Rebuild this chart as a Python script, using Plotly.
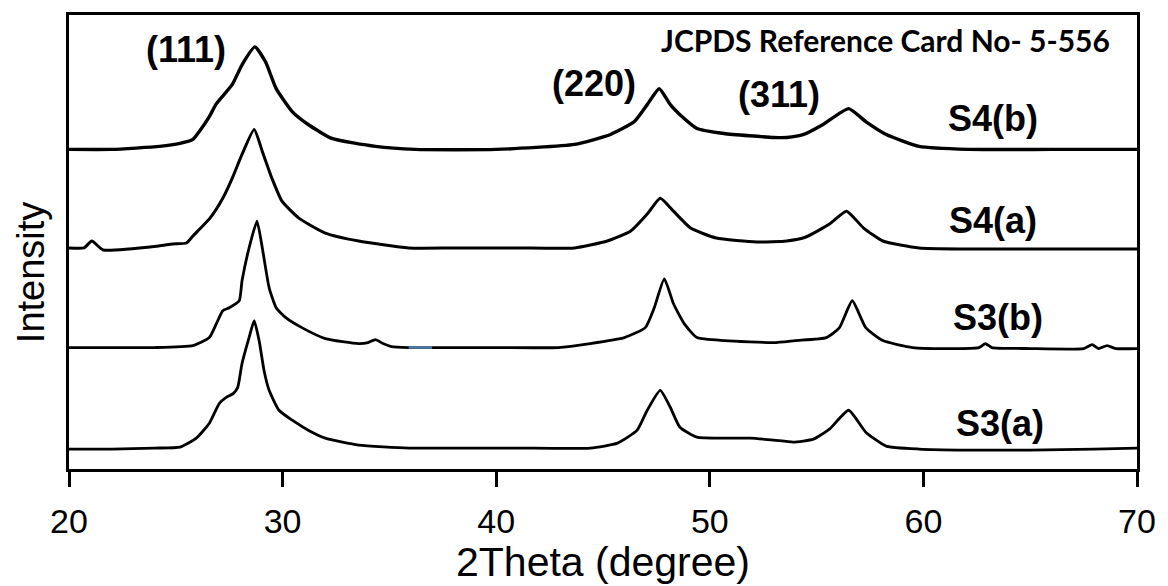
import plotly.graph_objects as go

# 2Theta (degree) and intensity (a.u., stacked offsets)
s3a_x = [20, 22, 24, 25.2, 25.96, 26.57, 27.04, 27.36, 27.7, 27.9, 28.1, 28.43, 28.67, 28.9, 29.13, 29.37,
         29.83, 30.45, 31.2, 32.0, 33.56, 35.9, 38, 41, 44.4, 45.68, 46.6, 47.07, 47.68, 48.15, 48.6, 49.4,
         50.66, 51.9, 53.0, 53.9, 54.85, 55.6, 56.5, 57.3, 58.26, 59.8, 62, 65, 68, 70]
s3a_y = [20, 20, 21, 22, 31, 46, 66, 72, 76, 82, 106, 132, 149, 129, 99, 79,
         59, 49, 39, 31, 24, 21, 21, 21, 21, 26, 39, 59, 79, 62, 42, 32,
         31, 31, 29, 27, 30, 40, 59, 37, 23, 20, 19, 19, 20, 21]

s3b_x = [20, 22, 24, 25.8, 26.57, 26.9, 27.2, 27.5, 27.97, 28.1, 28.43, 28.8, 29.05, 29.37, 29.7, 30.15,
         30.9, 32.0, 33.56, 34.0, 34.35, 34.7, 35.1, 35.9, 37, 40, 42.9, 44.4, 46.0, 46.98, 47.4, 47.87,
         48.3, 48.8, 49.4, 50.7, 53.0, 54.0, 55.46, 56.07, 56.67, 57.3, 58.1, 59.5, 61.4, 62.6, 62.9, 63.2,
         65, 67.5, 67.9, 68.2, 68.6, 69, 70]
s3b_y = [122, 122, 122, 124, 132, 146, 159, 162, 169, 189, 222, 249, 222, 182, 162, 152,
         142, 131, 126, 127, 130, 126, 123, 122, 122, 122, 122, 126, 132, 142, 162, 191,
         166, 146, 132, 129, 127, 129, 132, 142, 169, 142, 129, 122, 121, 122, 126, 122,
         121, 121, 125, 121, 124, 121, 121]

s4a_x = [20, 20.7, 21.07, 21.6, 24.2, 24.85, 25.5, 25.8, 26.6, 27.2, 27.64, 28.1, 28.67, 29.05, 29.5, 29.97,
         30.76, 32.0, 33.56, 35.9, 38, 41, 43.67, 45.2, 46.3, 47.07, 47.68, 48.3, 49.1, 50.3, 52.2, 53.6,
         54.5, 55.6, 56.4, 57.2, 58.1, 59.8, 62, 66, 70]
s4a_y = [222, 222, 229, 220, 224, 226, 227, 234, 252, 272, 292, 316, 341, 319, 292, 269,
         252, 237, 229, 222, 222, 222, 222, 229, 239, 256, 272, 259, 242, 232, 228, 229,
         233, 246, 259, 242, 229, 222, 221, 221, 221]

s4b_x = [20, 22, 24.24, 25.2, 25.8, 26.1, 26.57, 26.9, 27.64, 28.1, 28.7, 29.2, 29.7, 30.45, 31.2, 32.3,
         34.35, 36.2, 40, 43.67, 45.35, 46.47, 47.07, 47.63, 48.15, 48.8, 49.4, 50.66, 53.0, 53.6, 54.4,
         55.3, 56.5, 57.3, 58.26, 59.8, 62.1, 66, 70]
s4b_y = [321, 321, 324, 327, 331, 339, 354, 367, 386, 406, 424, 409, 382, 359, 346, 332,
         324, 321, 321, 326, 336, 349, 366, 382, 366, 352, 342, 337, 333, 333, 336,
         346, 362, 349, 336, 324, 321, 321, 321]

# short blue artefact segment on S3(b)
blue_x = [35.9, 37.0]
blue_y = [122, 122]

series_names = ["S3(a)", "S3(b)", "S4(a)", "S4(b)"]
peak_labels = ["(111)", "(220)", "(311)"]
card_label = "JCPDS Reference Card No- 5-556"

fig = go.Figure()
for name, xs, ys, w in [("S3(a)", s3a_x, s3a_y, 2.8), ("S3(b)", s3b_x, s3b_y, 2.8),
                        ("S4(a)", s4a_x, s4a_y, 3.0), ("S4(b)", s4b_x, s4b_y, 3.4)]:
    fig.add_trace(go.Scatter(x=xs, y=ys, mode="lines", name=name,
                             line=dict(color="black", width=w, shape="spline", smoothing=0.5)))
fig.add_trace(go.Scatter(x=blue_x, y=blue_y, mode="lines", line=dict(color="#4f7fb5", width=2.5)))

lab_font = dict(family="Liberation Sans", size=36, color="black")
anns = []
for txt, x, y in zip(peak_labels, [25.5, 44.56, 53.22], [421, 387, 376]):
    anns.append(dict(x=x, y=y, xref="x", yref="y", text="<b>%s</b>" % txt, showarrow=False,
                     font=lab_font, xanchor="center", yanchor="middle"))
for txt, x, y in zip(["S4(b)", "S4(a)", "S3(b)", "S3(a)"], [63.24, 63.24, 63.48, 63.57], [352, 250, 152, 46]):
    anns.append(dict(x=x, y=y, xref="x", yref="y", text="<b>%s</b>" % txt, showarrow=False,
                     font=lab_font, xanchor="center", yanchor="middle"))
anns.append(dict(x=58.21, y=431, xref="x", yref="y", text="<b>%s</b>" % card_label, showarrow=False,
                 font=dict(family="Lato", size=30, color="black"), xanchor="center", yanchor="middle"))
anns.append(dict(x=-0.0354, y=0.434, xref="paper", yref="paper", text="Intensity", textangle=-90,
                 showarrow=False, font=dict(family="Liberation Sans", size=38, color="black"),
                 xanchor="center", yanchor="middle"))
anns.append(dict(x=0.5, y=-0.205, xref="paper", yref="paper", text="2Theta (degree)",
                 showarrow=False, font=dict(family="Liberation Sans", size=41, color="black"),
                 xanchor="center", yanchor="middle"))

fig.update_layout(
    width=1168, height=586, margin=dict(l=69, r=26, t=13, b=117),
    paper_bgcolor="white", plot_bgcolor="white", showlegend=False,
    annotations=anns,
    xaxis=dict(range=[20, 70], dtick=10, tick0=20, ticks="outside", ticklen=15, tickwidth=2.5,
               tickcolor="black", showline=True, linewidth=2.5, linecolor="black", mirror=True,
               showgrid=False, zeroline=False, ticklabelstandoff=5,
               tickfont=dict(family="Liberation Sans", size=34, color="black")),
    yaxis=dict(range=[0, 456], showticklabels=False, ticks="", showline=True, linewidth=2.5,
               linecolor="black", mirror=True, showgrid=False, zeroline=False),
)
fig.write_html("out.html")
